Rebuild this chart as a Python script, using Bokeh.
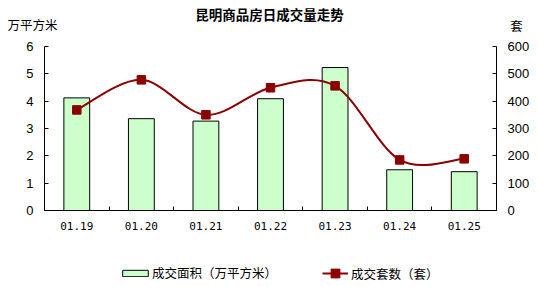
from bokeh.plotting import figure
from bokeh.models import (Range1d, LinearAxis, FixedTicker, Label, Legend, LegendItem)
from bokeh.embed import file_html
from bokeh.resources import INLINE

categories = ["01.19", "01.20", "01.21", "01.22", "01.23", "01.24", "01.25"]
area = [4.12, 3.36, 3.27, 4.09, 5.23, 1.49, 1.42]       # 成交面积（万平方米）
units = [368, 478, 350, 449, 456, 185, 189]             # 成交套数（套）
left_ticks = [0, 1, 2, 3, 4, 5, 6]
right_ticks = [0, 100, 200, 300, 400, 500, 600]

BAR = "#CCFFCC"
LINE = "#8B0000"
CJK = "Noto Sans CJK SC"

W, H = 538, 287
# plot-area edges in canvas pixels
PL, PR, PT, PB = 44, 496, 46, 210

ncat = len(categories)
xs = [i + 0.5 for i in range(ncat)]

# frame covers whole canvas; axes are pinned with fixed_location
xppu = (PR - PL) / ncat
yspan = left_ticks[-1] - left_ticks[0]
yppu = (PB - PT) / yspan
x_start = -PL / xppu
x_end = ncat + (W - PR) / xppu
y_start = -(H - PB) / yppu
y_end = left_ticks[-1] + PT / yppu
rscale = (right_ticks[-1] - right_ticks[0]) / yspan

p = figure(width=W, height=H, output_backend="svg", toolbar_location=None,
           x_range=Range1d(x_start, x_end), y_range=Range1d(y_start, y_end),
           min_border_left=0, min_border_right=0, min_border_top=0, min_border_bottom=0,
           title=None)
p.extra_y_ranges = {"right": Range1d(y_start * rscale, y_end * rscale)}
p.outline_line_color = None
p.background_fill_color = "white"
p.border_fill_color = "white"
p.xgrid.visible = False
p.ygrid.visible = False

# axes
xa = p.xaxis[0]
xa.fixed_location = 0
xa.bounds = (0, ncat)
xa.ticker = FixedTicker(ticks=xs, minor_ticks=list(range(1, ncat)))
xa.major_label_overrides = {x: c for x, c in zip(xs, categories)}
xa.major_tick_in = 0
xa.major_tick_out = 0
xa.minor_tick_in = 4
xa.minor_tick_out = 0
xa.major_label_standoff = 11
xa.major_label_text_font = "DejaVu Sans Mono"
xa.major_label_text_font_size = "11px"
xa.major_label_text_color = "black"
xa.axis_line_color = "black"

ya = p.yaxis[0]
ya.fixed_location = 0
ya.bounds = (left_ticks[0], left_ticks[-1])
ya.ticker = FixedTicker(ticks=left_ticks, minor_ticks=[])
ya.major_tick_in = 4
ya.major_tick_out = 0
ya.minor_tick_in = 0
ya.minor_tick_out = 0
ya.major_label_standoff = 11
ya.major_label_text_font = "Liberation Sans"
ya.major_label_text_font_size = "13px"
ya.major_label_text_color = "black"
ya.axis_line_color = "black"

ra = LinearAxis(y_range_name="right", ticker=FixedTicker(ticks=right_ticks, minor_ticks=[]))
ra.fixed_location = ncat
ra.bounds = (right_ticks[0], right_ticks[-1])
ra.major_tick_in = 4
ra.major_tick_out = 0
ra.minor_tick_in = 0
ra.minor_tick_out = 0
ra.major_label_standoff = 11
ra.major_label_text_font = "Liberation Sans"
ra.major_label_text_font_size = "13px"
ra.major_label_text_color = "black"
ra.axis_line_color = "black"
p.add_layout(ra, "right")

# bars
bars = p.vbar(x=xs, top=area, width=0.4, fill_color=BAR, line_color="black", line_width=1)

# smooth line via Catmull-Rom -> bezier control points
n = len(xs)
x0s, y0s, x1s, y1s, cx0s, cy0s, cx1s, cy1s = [], [], [], [], [], [], [], []
for i in range(n - 1):
    pxm = xs[i - 1] if i > 0 else xs[i]
    pym = units[i - 1] if i > 0 else units[i]
    pxp = xs[i + 2] if i + 2 < n else xs[i + 1]
    pyp = units[i + 2] if i + 2 < n else units[i + 1]
    x0s.append(xs[i]); y0s.append(units[i])
    x1s.append(xs[i + 1]); y1s.append(units[i + 1])
    cx0s.append(xs[i] + (xs[i + 1] - pxm) / 6); cy0s.append(units[i] + (units[i + 1] - pym) / 6)
    cx1s.append(xs[i + 1] - (pxp - xs[i]) / 6); cy1s.append(units[i + 1] - (pyp - units[i]) / 6)
curve = p.bezier(x0=x0s, y0=y0s, x1=x1s, y1=y1s, cx0=cx0s, cy0=cy0s, cx1=cx1s, cy1=cy1s,
                 line_color=LINE, line_width=2, y_range_name="right")
legend_line = p.line(x=xs, y=units, line_color=LINE, line_width=2, y_range_name="right", visible=False)
pts = p.scatter(x=xs, y=units, marker="square", size=8.5, fill_color=LINE, line_color=LINE,
                y_range_name="right")

# texts (screen units: x from left, y from bottom of canvas)
p.add_layout(Label(x=W / 2, y=H - 13, x_units="screen", y_units="screen", text="昆明商品房日成交量走势",
                   text_align="center", text_baseline="middle", text_font=CJK,
                   text_font_size="13.5px", text_font_style="bold", text_color="black"))
p.add_layout(Label(x=7, y=H - 24, x_units="screen", y_units="screen", text="万平方米",
                   text_align="left", text_baseline="middle", text_font=CJK,
                   text_font_size="12.5px", text_color="black"))
p.add_layout(Label(x=516, y=H - 25, x_units="screen", y_units="screen", text="套",
                   text_align="center", text_baseline="middle", text_font=CJK,
                   text_font_size="12.5px", text_color="black"))

# legends
def style(lg):
    lg.border_line_color = None
    lg.background_fill_alpha = 0
    lg.padding = 0
    lg.margin = 0
    lg.spacing = 0
    lg.label_text_font = CJK
    lg.label_text_font_size = "12.5px"
    lg.label_text_color = "black"

lg1 = Legend(items=[LegendItem(label="成交面积（万平方米）", renderers=[bars])],
             location=(119, 5), glyph_width=32, glyph_height=8, label_standoff=1, label_height=8)
style(lg1)
lg2 = Legend(items=[LegendItem(label="成交套数（套）", renderers=[legend_line, pts])],
             location=(322, 3), glyph_width=26, glyph_height=22, label_standoff=3, label_height=22)
style(lg2)
p.add_layout(lg1)
p.add_layout(lg2)

open("out.html", "w").write(file_html(p, INLINE))
